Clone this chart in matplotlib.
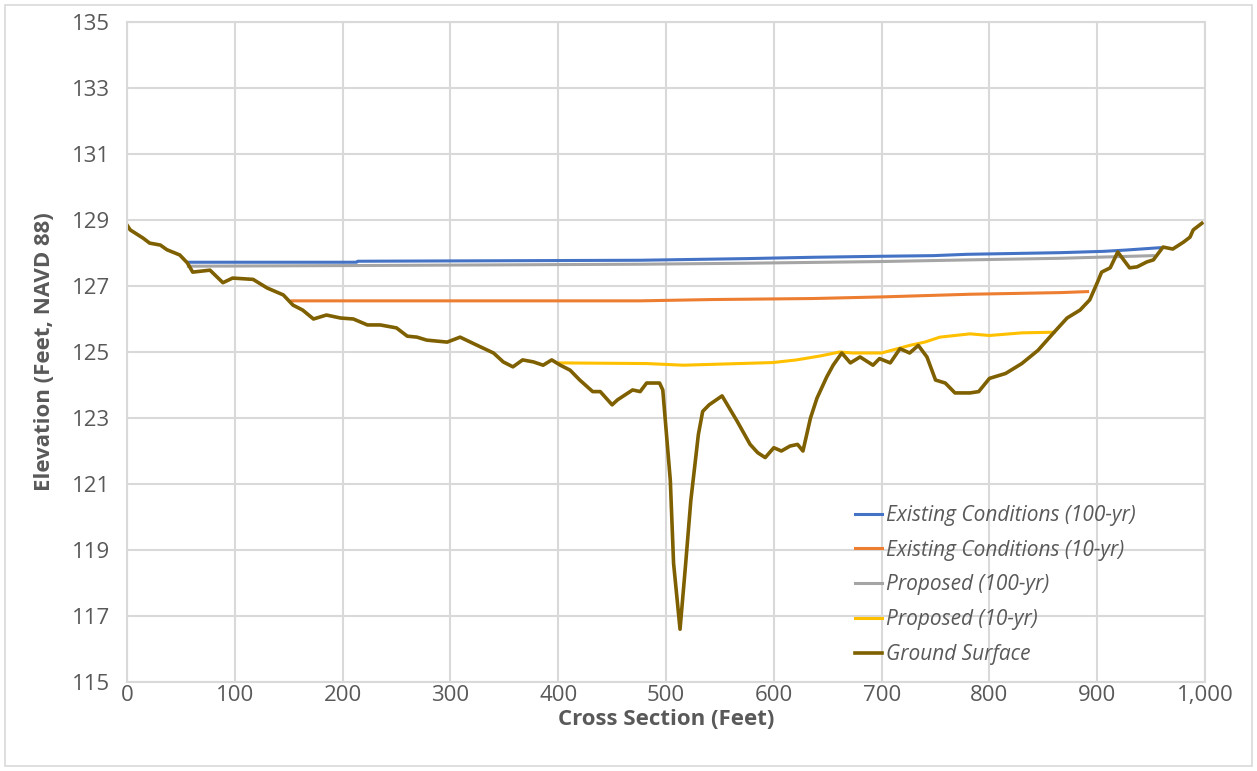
import numpy as np
import matplotlib.pyplot as plt
from matplotlib.patches import Rectangle
from matplotlib.ticker import FuncFormatter

plt.rcParams['font.family'] = ['Open Sans', 'DejaVu Sans']

# water surface profiles (cross section ft, elevation ft)
ex100_x = [57, 213, 214, 476, 575, 636, 698, 748, 779, 866, 906, 927, 958]
ex100_y = [127.72, 127.72, 127.75, 127.78, 127.83, 127.87, 127.9, 127.92, 127.96, 128.01, 128.05, 128.09, 128.16]

ex10_x = [153, 476, 544, 636, 701, 782, 866, 891]
ex10_y = [126.55, 126.55, 126.59, 126.62, 126.67, 126.75, 126.8, 126.83]

pr100_x = [57, 213, 476, 575, 698, 779, 866, 952]
pr100_y = [127.6, 127.62, 127.66, 127.69, 127.74, 127.79, 127.84, 127.92]

pr10_x = [400, 482, 516, 599, 621, 643, 661, 673, 700, 726, 740, 754, 782, 800, 830, 860]
pr10_y = [124.67, 124.65, 124.6, 124.68, 124.76, 124.88, 125.0, 124.97, 124.97, 125.2, 125.3, 125.45,
          125.55, 125.5, 125.58, 125.6]

ground_x = [0, 3, 15, 21, 31, 37, 49, 56, 61, 77, 89, 98, 117, 130, 145, 154, 163, 173, 185, 198,
            210, 223, 235, 250, 260, 269, 278, 297, 309, 325, 340, 349, 358, 367, 377, 386, 394, 402,
            411, 420, 432, 439, 450, 455, 469, 476, 482, 494, 497, 504, 507, 513, 518, 523, 530, 534,
            540, 552, 566, 578, 585, 592, 600, 607, 615, 622, 627, 634, 640, 649, 655, 663, 671, 680,
            692, 698, 708, 717, 726, 734, 742, 750, 759, 768, 782, 790, 800, 815, 830, 845, 860, 872,
            884, 893, 900, 904, 912, 919, 930, 937, 946, 952, 961, 970, 980, 986, 989, 997]
ground_y = [128.85, 128.7, 128.45, 128.3, 128.24, 128.1, 127.94, 127.7, 127.42, 127.48, 127.1, 127.24,
            127.2, 126.94, 126.73, 126.42, 126.27, 126.0, 126.12, 126.03, 126.0, 125.82, 125.82, 125.73,
            125.48, 125.45, 125.36, 125.3, 125.45, 125.2, 124.97, 124.7, 124.55, 124.76, 124.7, 124.6,
            124.76, 124.6, 124.45, 124.15, 123.8, 123.8, 123.4, 123.55, 123.85, 123.8, 124.06, 124.06,
            123.85, 121.1, 118.6, 116.6, 118.5, 120.5, 122.5, 123.2, 123.4, 123.67, 122.9, 122.2, 121.95,
            121.8, 122.1, 122.0, 122.15, 122.2, 122.0, 123.0, 123.6, 124.24, 124.6, 124.97, 124.67, 124.85,
            124.6, 124.8, 124.67, 125.1, 124.97, 125.2, 124.85, 124.15, 124.06, 123.76, 123.76, 123.8,
            124.2, 124.35, 124.65, 125.05, 125.6, 126.03, 126.27, 126.58, 127.1, 127.42, 127.55, 128.03,
            127.55, 127.58, 127.73, 127.79, 128.18, 128.12, 128.33, 128.48, 128.7, 128.9]

fig = plt.figure(figsize=(12.57, 7.71), dpi=100)
ax = fig.add_axes([0.101, 0.1154, 0.8577, 0.8561])

ax.plot(ex100_x, ex100_y, color='#4472C4', lw=2.2, label='Existing Conditions (100-yr)')
ax.plot(ex10_x, ex10_y, color='#ED7D31', lw=2.2, label='Existing Conditions (10-yr)')
ax.plot(pr100_x, pr100_y, color='#A5A5A5', lw=2.2, label='Proposed (100-yr)')
ax.plot(pr10_x, pr10_y, color='#FFC000', lw=2.2, label='Proposed (10-yr)')
ax.plot(ground_x, ground_y, color='#7F6000', lw=2.6, label='Ground Surface')

ax.set_xlim(0, 1000)
ax.set_ylim(115, 135)
ax.set_xticks(np.arange(0, 1001, 100))
ax.set_yticks(np.arange(115, 136, 2))
ax.xaxis.set_major_formatter(FuncFormatter(lambda v, p: f'{int(v):,}'))
ax.tick_params(length=0, labelsize=16, labelcolor='#595959')
ax.tick_params(axis='y', pad=12)
ax.tick_params(axis='x', pad=2)
ax.grid(True, color='#D9D9D9', lw=1.5)
ax.set_axisbelow(True)
for s in ax.spines.values():
    s.set_color('#D9D9D9')
    s.set_linewidth(1.5)

ax.set_xlabel('Cross Section (Feet)', fontsize=16, fontweight='bold', color='#595959', labelpad=2)
ax.set_ylabel('Elevation (Feet, NAVD 88)', fontsize=16, fontweight='bold', color='#595959', labelpad=12)

leg = ax.legend(loc='upper left', bbox_to_anchor=(0.6675, 0.281), frameon=False, fontsize=15,
                handlelength=1.3, handletextpad=0.2, labelspacing=0.66, borderaxespad=0)
for t in leg.get_texts():
    t.set_color('#595959')
    t.set_fontstyle('italic')

fig.patches.append(Rectangle((0.004, 0.006), 0.992, 0.988, transform=fig.transFigure,
                             fill=False, edgecolor='#D9D9D9', lw=1.2))

plt.savefig('out.png', dpi=100)
